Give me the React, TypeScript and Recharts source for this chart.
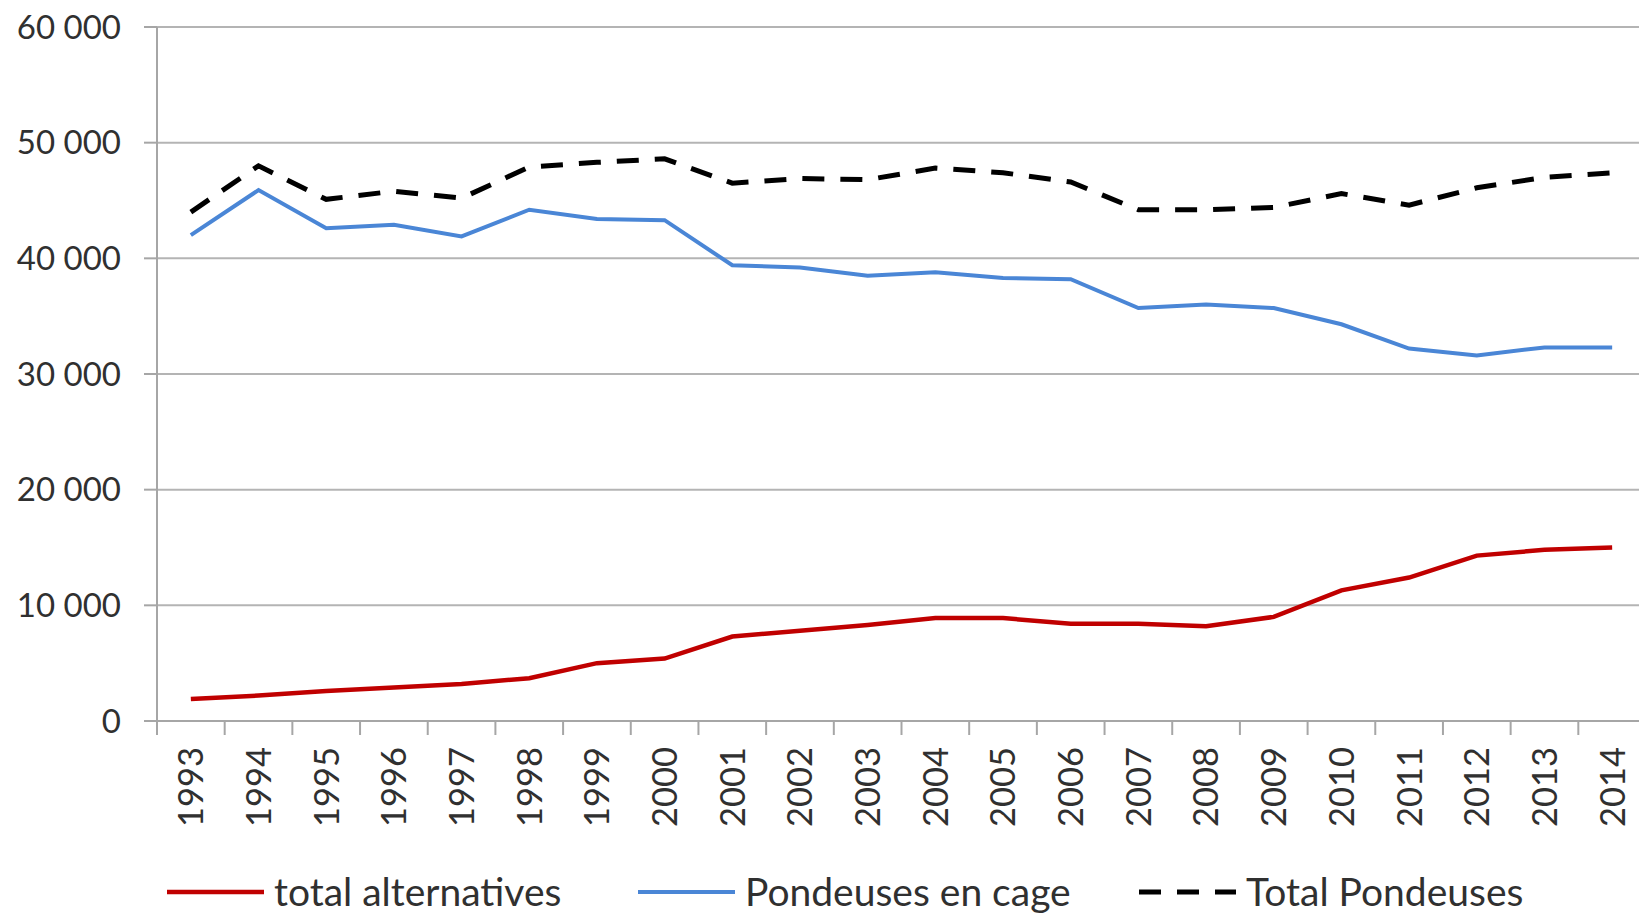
import React from "react";
import { LineChart, Line, XAxis, YAxis, CartesianGrid, Legend } from "recharts";

// palette / fonts
const C = { grid: "#b4b4b4", axis: "#a6a6a6", text: "#303030", red: "#C00000", blue: "#4A86D6", black: "#000000" };
const FONT = "Lato, 'Open Sans', sans-serif";

const YEARS = [1993, 1994, 1995, 1996, 1997, 1998, 1999, 2000, 2001, 2002, 2003, 2004, 2005, 2006, 2007, 2008, 2009, 2010, 2011, 2012, 2013, 2014];
const ALTERNATIVES = [1900, 2200, 2600, 2900, 3200, 3700, 5000, 5400, 7300, 7800, 8300, 8900, 8900, 8400, 8400, 8200, 9000, 11300, 12400, 14300, 14800, 15000];
const CAGE = [42000, 45900, 42600, 42900, 41900, 44200, 43400, 43300, 39400, 39200, 38500, 38800, 38300, 38200, 35700, 36000, 35700, 34300, 32200, 31600, 32300, 32300];
const TOTAL = [44000, 48000, 45100, 45800, 45200, 47900, 48300, 48600, 46500, 46900, 46800, 47800, 47400, 46600, 44200, 44200, 44400, 45600, 44600, 46100, 47000, 47400];
const Y_TICKS = [0, 10000, 20000, 30000, 40000, 50000, 60000];

const SERIES = [
  { key: "alt", name: "total alternatives", color: C.red, width: 4.5, dash: undefined },
  { key: "cage", name: "Pondeuses en cage", color: C.blue, width: 4, dash: undefined },
  { key: "total", name: "Total Pondeuses", color: C.black, width: 5, dash: "22 16" },
];

const data = YEARS.map((y, i) => ({ year: y, alt: ALTERNATIVES[i], cage: CAGE[i], total: TOTAL[i] }));

// layout
const W = 1660, H = 915;
const M = { top: 27, right: 14, left: 0, bottom: 0 };
const Y_W = 157, X_H = 194;
const STEP = (W - M.right - M.left - Y_W) / YEARS.length;
const LEGEND_X = [167, 638, 1139];
const LEGEND_LINE = 97;

const fmt = (v: number) => String(v).replace(/\B(?=(\d{3})+(?!\d))/g, " ");

function YearTick({ x, y, payload }: any) {
  const ty = y + 26;
  return (
    <g>
      <line x1={x - STEP / 2} x2={x - STEP / 2} y1={y} y2={y + 14} stroke={C.axis} strokeWidth={2} />
      <text x={x} y={ty} dy="0.36em" textAnchor="end" transform={`rotate(-90 ${x} ${ty})`}
        fill={C.text} fontSize={34.5} fontFamily={FONT}>{payload.value}</text>
    </g>
  );
}

function LegendBox({ payload }: any) {
  return (
    <svg width={1639} height={64}>
      {SERIES.map((s, i) => {
        const p = (payload || []).find((d: any) => d.dataKey === s.key);
        const x0 = LEGEND_X[i];
        return (
          <g key={s.key}>
            <line x1={x0} x2={x0 + LEGEND_LINE} y1={32} y2={32} stroke={s.color} strokeWidth={s.width}
              strokeDasharray={s.dash} />
            <text x={x0 + LEGEND_LINE + 10} y={32} dy="0.36em" fill={C.text} fontSize={39} fontFamily={FONT}>
              {p ? p.value : s.name}
            </text>
          </g>
        );
      })}
    </svg>
  );
}

export default function App() {
  return (
    <div style={{ position: "absolute", left: 0, top: 0, width: 1639, height: 915, overflow: "hidden", background: "#fff", fontFamily: FONT }}>
      <LineChart width={W} height={H} data={data} margin={M}>
        <CartesianGrid vertical={false} stroke={C.grid} strokeWidth={2} />
        <XAxis dataKey="year" type="number" scale="linear" domain={[1992.5, 2014.5]} allowDataOverflow
          ticks={YEARS} interval={0} height={X_H} tickSize={0} tickMargin={0} tickLine={false}
          stroke={C.axis} strokeWidth={2} tick={<YearTick />} />
        <YAxis domain={[0, 60000]} ticks={Y_TICKS} interval={0} width={Y_W} tickSize={13} tickMargin={23}
          stroke={C.axis} strokeWidth={2} tickFormatter={fmt}
          tick={{ fill: C.text, fontSize: 33, fontFamily: FONT }} />
        <Legend layout="horizontal" verticalAlign="middle" align="center" content={<LegendBox />}
          wrapperStyle={{ left: 0, top: 860, width: 1639, height: 64 }} />
        {SERIES.map(s => (
          <Line key={s.key} dataKey={s.key} name={s.name} stroke={s.color} strokeWidth={s.width}
            strokeDasharray={s.dash} dot={false} activeDot={false} type="linear" isAnimationActive={false} />
        ))}
      </LineChart>
    </div>
  );
}
